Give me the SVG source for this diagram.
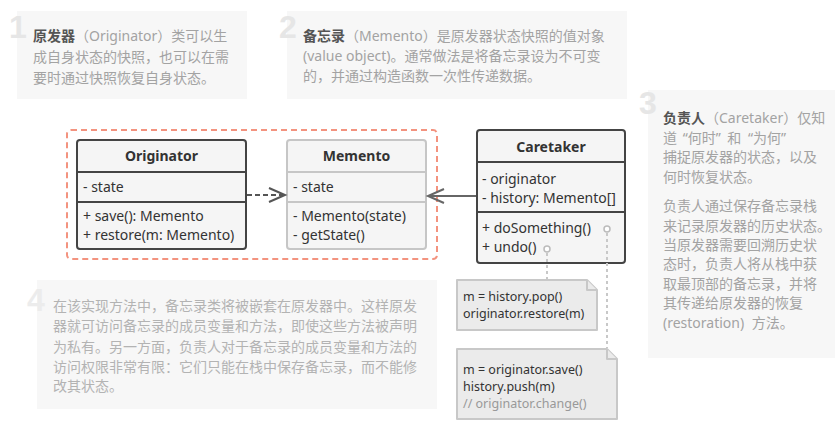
<svg xmlns="http://www.w3.org/2000/svg" width="835" height="431" viewBox="0 0 835 431">
<defs>
<style>
.bg{fill:#f7f7f7}
.num{font-family:"Liberation Sans",Arial,sans-serif;font-weight:bold;font-size:32px;fill:#e6e6e6}
.t{font-family:"Noto Sans","Noto Sans CJK SC",sans-serif;font-size:14px;fill:#a3a3a3}
.t4{fill:#b3b3b3}
.b{font-weight:bold;fill:#555}
.u{font-family:"Noto Sans","Noto Sans CJK SC",sans-serif;font-size:14px;fill:#333}
.ub{font-weight:bold}
.box{fill:#f5f5f5;stroke:#444;stroke-width:2}
.boxg{fill:#f5f5f5;stroke:#c6c6c6;stroke-width:2}
.ln{stroke:#444;stroke-width:2}
.lng{stroke:#c6c6c6;stroke-width:2}
.note{fill:#ebebeb;stroke:#c8c8c8;stroke-width:2;stroke-linejoin:round}
.nt{font-family:"Noto Sans","Noto Sans CJK SC",sans-serif;font-size:12.5px;fill:#333}
.cm{fill:#999}
.dot{stroke:#c8c8c8;stroke-width:2;stroke-dasharray:3 3;fill:none}
.circ{fill:#fff;stroke:#bbb;stroke-width:1.5}
</style>
<marker id="openA" viewBox="0 0 20 20" refX="17" refY="10" markerWidth="20" markerHeight="20" markerUnits="userSpaceOnUse" orient="auto">
<path d="M1,3 L17,10 L1,17" fill="none" stroke="#555" stroke-width="2"/>
</marker>
<marker id="openB" viewBox="0 0 20 20" refX="17" refY="10" markerWidth="20" markerHeight="20" markerUnits="userSpaceOnUse" orient="auto">
<path d="M1,3 L17,10 L1,17" fill="none" stroke="#666" stroke-width="2"/>
</marker>
</defs>
<rect width="835" height="431" fill="#fff"/>

<g id="note-1">
<rect class="bg" x="17" y="11" width="230" height="88"/>
<text class="num" x="9" y="38">1</text>
<text class="t" x="33" y="41"><tspan class="b">原发器</tspan>（Originator）类可以生</text>
<text class="t" x="33" y="62">成自身状态的快照，也可以在需</text>
<text class="t" x="33" y="83">要时通过快照恢复自身状态。</text>
</g>

<g id="note-2">
<rect class="bg" x="287" y="11" width="340" height="88"/>
<text class="num" x="279" y="38">2</text>
<text class="t" x="303" y="41"><tspan class="b">备忘录</tspan>（Memento）是原发器状态快照的值对象</text>
<text class="t" x="303" y="61">(value object)。通常做法是将备忘录设为不可变</text>
<text class="t" x="303" y="81">的，并通过构造函数一次性传递数据。</text>
</g>

<g id="note-3">
<rect class="bg" x="648" y="90" width="187" height="268"/>
<text class="num" x="639" y="114">3</text>
<text class="t" x="663" y="123"><tspan class="b">负责人</tspan>（Caretaker）仅知</text>
<text class="t" x="663" y="143">道 <tspan dx="2">“何时”</tspan> <tspan dx="3">和</tspan> <tspan dx="3">“为何”</tspan></text>
<text class="t" x="663" y="162">捕捉原发器的状态，以及</text>
<text class="t" x="663" y="182">何时恢复状态。</text>
<text class="t" x="663" y="211">负责人通过保存备忘录栈</text>
<text class="t" x="663" y="231">来记录原发器的历史状态。</text>
<text class="t" x="663" y="250">当原发器需要回溯历史状</text>
<text class="t" x="663" y="269">态时，负责人将从栈中获</text>
<text class="t" x="663" y="289">取最顶部的备忘录，并将</text>
<text class="t" x="663" y="308">其传递给原发器的恢复</text>
<text class="t" x="663" y="328">(restoration) <tspan dx="4">方法。</tspan></text>
</g>

<g id="note-4">
<rect class="bg" x="37" y="280" width="400" height="129"/>
<text class="num" x="27" y="311" style="fill:#ececec">4</text>
<text class="t t4" x="53" y="311">在该实现方法中，备忘录类将被嵌套在原发器中。这样原发</text>
<text class="t t4" x="53" y="331">器就可访问备忘录的成员变量和方法，即使这些方法被声明</text>
<text class="t t4" x="53" y="352">为私有。另一方面，负责人对于备忘录的成员变量和方法的</text>
<text class="t t4" x="53" y="372">访问权限非常有限：它们只能在栈中保存备忘录，而不能修</text>
<text class="t t4" x="53" y="391">改其状态。</text>
</g>

<g id="nesting-boundary">
<rect x="67" y="130" width="370" height="129" rx="4" fill="none" stroke="#f3937f" stroke-width="2" stroke-dasharray="6 4"/>
</g>

<g id="originator">
<rect class="box" x="77" y="140" width="169" height="109" rx="3"/>
<line class="ln" x1="77" y1="172" x2="246" y2="172"/>
<line class="ln" x1="77" y1="202" x2="246" y2="202"/>
<text class="u ub" x="161.5" y="161" text-anchor="middle">Originator</text>
<text class="u" x="83" y="192">- state</text>
<text class="u" x="83" y="221">+ save(): Memento</text>
<text class="u" x="83" y="240">+ restore(m: Memento)</text>
</g>

<g id="memento">
<rect class="boxg" x="287" y="140" width="139" height="109" rx="3"/>
<line class="lng" x1="287" y1="172" x2="426" y2="172"/>
<line class="lng" x1="287" y1="202" x2="426" y2="202"/>
<text class="u ub" x="356.5" y="161" text-anchor="middle">Memento</text>
<text class="u" x="293" y="192">- state</text>
<text class="u" x="293" y="221">- Memento(state)</text>
<text class="u" x="293" y="240">- getState()</text>
</g>

<g id="caretaker">
<rect class="box" x="477" y="130" width="148" height="133" rx="3"/>
<line class="ln" x1="477" y1="162" x2="625" y2="162"/>
<line class="ln" x1="477" y1="212" x2="625" y2="212"/>
<text class="u ub" x="551" y="152" text-anchor="middle">Caretaker</text>
<text class="u" x="482" y="184">- originator</text>
<text class="u" x="482" y="203">- history: Memento[]</text>
<text class="u" x="482" y="233">+ doSomething()</text>
<text class="u" x="482" y="252">+ undo()</text>
</g>

<g id="code-undo">
<path class="note" d="M457,280 H587 L597,290 V330 H457 Z"/>
<path class="note" d="M587,280 V290 H597"/>
<text class="nt" x="463" y="301">m = history.pop()</text>
<text class="nt" x="463" y="318">originator.restore(m)</text>
</g>

<g id="code-doSomething">
<path class="note" d="M457,349 H607 L617,359 V419 H457 Z"/>
<path class="note" d="M607,349 V359 H617"/>
<text class="nt" x="463" y="374">m = originator.save()</text>
<text class="nt" x="463" y="391">history.push(m)</text>
<text class="nt cm" x="463" y="408">// originator.change()</text>
</g>

<g id="connectors">
<line x1="247" y1="195" x2="285" y2="195" stroke="#555" stroke-width="2" stroke-dasharray="5 3" marker-end="url(#openA)"/>
<line x1="476" y1="196" x2="428" y2="196" stroke="#666" stroke-width="2" marker-end="url(#openB)"/>
<line class="dot" x1="547" y1="253" x2="547" y2="279"/>
<line class="dot" x1="607" y1="233" x2="607" y2="348"/>
<circle class="circ" cx="547" cy="249" r="3"/>
<circle class="circ" cx="607" cy="229" r="3"/>
</g>
</svg>
